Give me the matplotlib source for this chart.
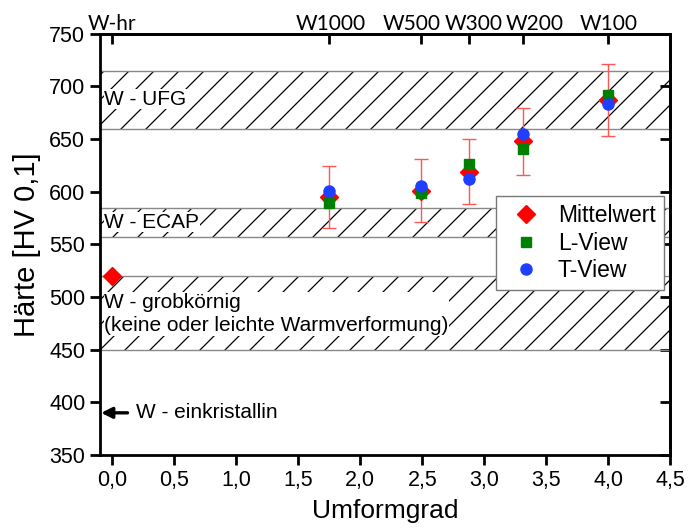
import numpy as np
import matplotlib
matplotlib.use("Agg")
import matplotlib.pyplot as plt
import matplotlib.backend_bases as bb

plt.rcParams['font.family'] = ['Liberation Sans', 'DejaVu Sans']
plt.rcParams['hatch.linewidth'] = 0.9

# hatch lines a bit sparser than matplotlib's default
_hatch_path = bb.GraphicsContextBase.get_hatch_path
bb.GraphicsContextBase.get_hatch_path = lambda self, density=4.0: _hatch_path(self, density)

# data
x_mittel = [0.0, 1.75, 2.49, 2.88, 3.31, 4.0]
mittel = [520, 595, 601, 619, 648, 687]
err = [0, 29.5, 30, 31, 32, 34]
x_view = [1.75, 2.49, 2.88, 3.31, 4.0]
l_view = [589, 599, 626, 641, 692]
t_view = [601, 605, 612, 655, 683]

top_pos = [0.0, 1.75, 2.49, 2.88, 3.31, 4.0]
top_labels = ["W-hr", "W1000", "W500", "W300", "W200", "W100"]
top_shift = [0, 1, -9, 4, 12, 0]   # pixel nudges so the labels don't collide

bands = [(660, 715), (557, 585), (450, 520)]
band_labels = ["W - UFG", "W - ECAP", "W - grobkörnig\n(keine oder leichte Warmverformung)"]
band_label_y = [688, 571, 484]

einkristall = 390

xticks = np.arange(0, 4.51, 0.5)
yticks = np.arange(350, 751, 50)

fig = plt.figure(figsize=(6.89, 5.29), dpi=100)
ax = fig.add_axes([0.145, 0.140, 0.828, 0.796])

for (lo, hi) in bands:
    ax.axhspan(lo, hi, facecolor='none', edgecolor='black', hatch='//', linewidth=0, zorder=1)
    ax.axhline(lo, color='#888888', lw=1.0, zorder=1.5)
    ax.axhline(hi, color='#888888', lw=1.0, zorder=1.5)

for lab, yy in zip(band_labels, band_label_y):
    ax.text(0.008, yy, lab, transform=ax.get_yaxis_transform(), fontsize=15,
            va='center', ha='left', linespacing=1.3, zorder=2,
            bbox=dict(facecolor='white', edgecolor='none', pad=0.5))

ax.annotate("W - einkristallin", xy=(-0.09, einkristall), xytext=(0.19, einkristall),
            fontsize=15, va='center', ha='left',
            arrowprops=dict(arrowstyle='-|>', color='black', lw=2.4, shrinkA=4, shrinkB=0,
                            mutation_scale=16))

ax.errorbar(x_mittel[1:], mittel[1:], yerr=err[1:], fmt='none', ecolor='#ff5555',
            elinewidth=1.0, capsize=5, capthick=1.0, zorder=3)
ax.plot(x_mittel, mittel, 'D', color='#ff0000', ms=9, mec='#ff0000', zorder=4, label='Mittelwert')
ax.plot(x_view, l_view, 's', color='#008000', ms=7, mec='#008000', zorder=5, label='L-View')
ax.plot(x_view, t_view, 'o', color='#1f3fff', ms=8, mec='#1f3fff', zorder=6, label='T-View')

ax.set_xlim(-0.1, 4.5)
ax.set_ylim(350, 750)
ax.set_xticks(xticks)
ax.set_xticklabels([f"{v:.1f}".replace('.', ',') for v in xticks])
ax.set_yticks(yticks)
ax.tick_params(axis='both', direction='out', length=7, width=2, labelsize=15.5)
ax.set_xlabel("Umformgrad", fontsize=19, labelpad=6)
ax.set_ylabel("Härte [HV 0,1]", fontsize=21, labelpad=6)
for s in ax.spines.values():
    s.set_linewidth(2)

top = ax.secondary_xaxis('top')
top.set_xticks(top_pos)
top.set_xticklabels([])
top.tick_params(direction='in', length=7, width=2)
top.spines['top'].set_linewidth(2)
for xp, lab, dx in zip(top_pos, top_labels, top_shift):
    ax.annotate(lab, xy=(xp, 1.0), xycoords=('data', 'axes fraction'),
                xytext=(dx, 4), textcoords='offset pixels', ha='center', va='baseline',
                fontsize=15, family=['Lato', 'DejaVu Sans'])

right = ax.secondary_yaxis('right')
right.set_yticks(yticks)
right.tick_params(direction='in', length=7, width=2, labelright=False)
right.spines['right'].set_linewidth(2)

leg = ax.legend(loc='upper right', bbox_to_anchor=(0.988, 0.615), fontsize=16.5,
                frameon=True, fancybox=False, edgecolor='#777777', framealpha=1,
                handlelength=1.9, handletextpad=0.45, borderpad=0.35, labelspacing=0.2,
                borderaxespad=0)
leg.get_frame().set_linewidth(1.0)
leg.set_zorder(10)

fig.savefig("out.png", dpi=100)
